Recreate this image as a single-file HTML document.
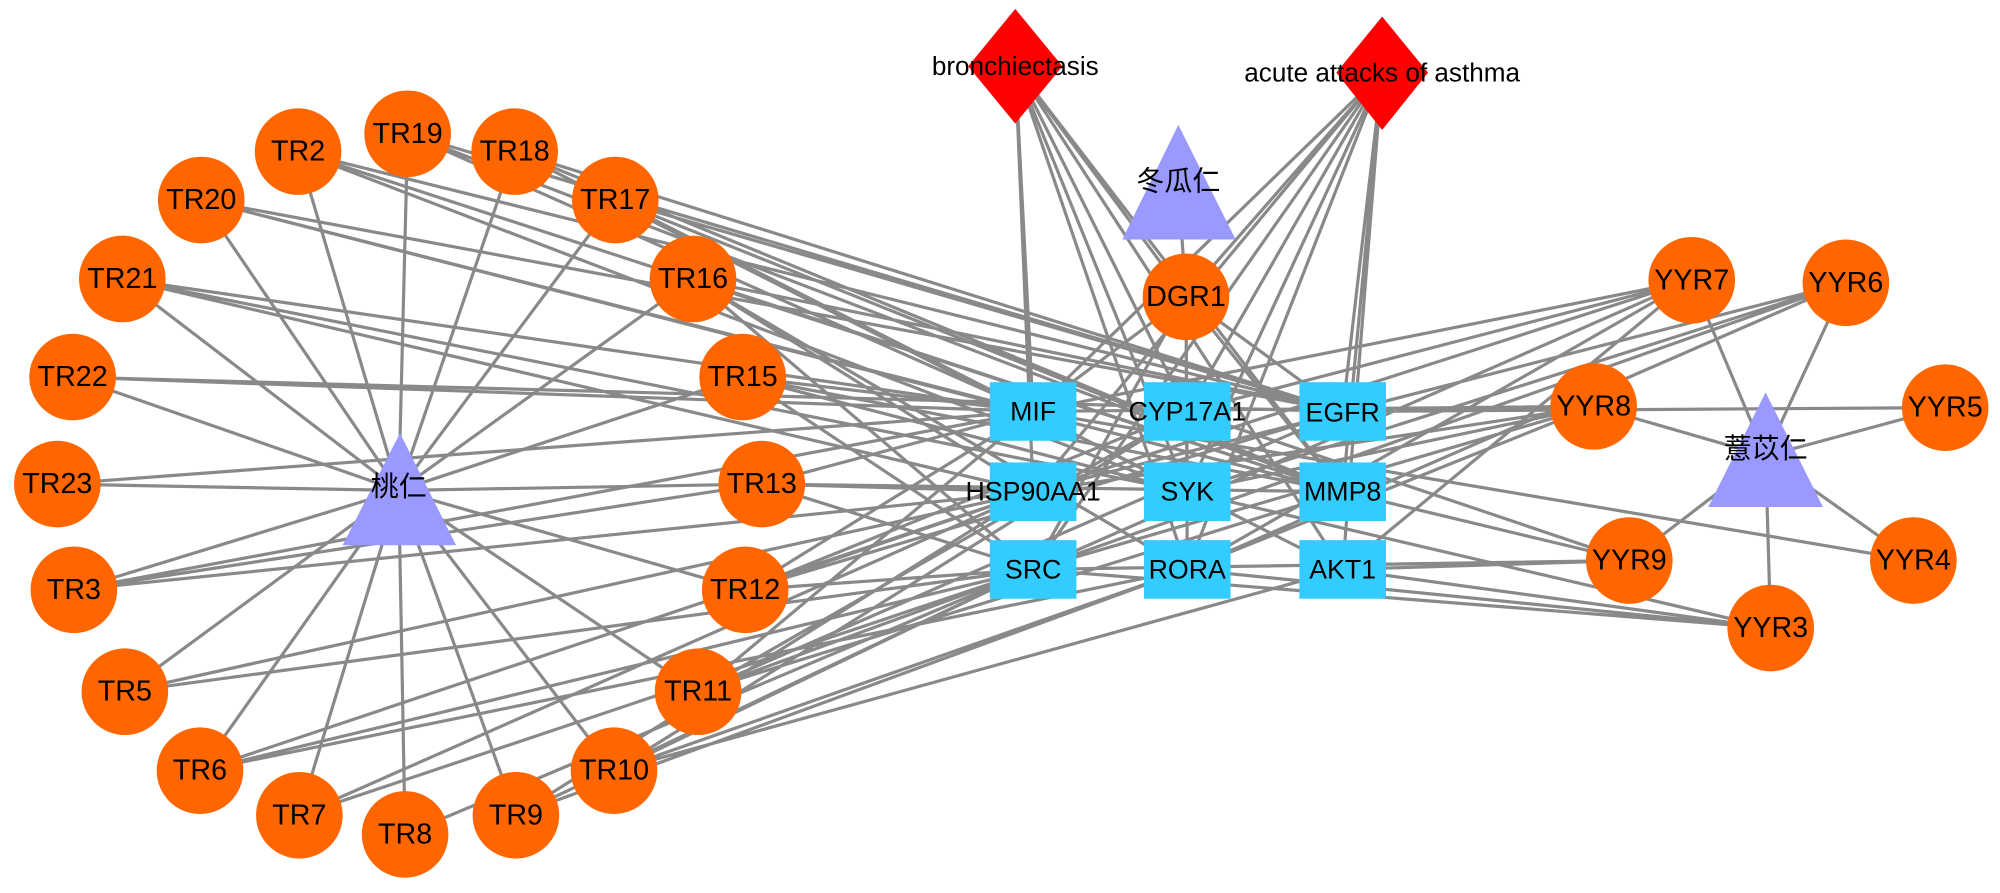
<!DOCTYPE html>
<html><head><meta charset="utf-8"><style>
html,body{margin:0;padding:0;background:#fff;width:2000px;height:893px;overflow:hidden}
svg{display:block}
text{font-family:"Liberation Sans","Noto Sans CJK SC",sans-serif;fill:#000;text-anchor:middle;dominant-baseline:central}
</style></head><body>
<svg width="2000" height="893" viewBox="0 0 1570 701" preserveAspectRatio="none" xmlns="http://www.w3.org/2000/svg">
<g stroke="#898989" stroke-width="2.5" fill="none">
<path d="M313,385L234,119M313,385L320,105M313,385L404,119M313,385L483,157M313,385L544,219M313,385L158,157M313,385L96,219M313,385L57,296M313,385L45,380M313,385L583,296M313,385L598,380M313,385L58,463M313,385L98,543M313,385L585,463M313,385L157,605M313,385L548,543M313,385L235,640M313,385L482,605M313,385L318,655M313,385L405,640"/>
<path d="M234,119L1054,323M234,119L1054,386M234,119L932,386M320,105L1054,323M320,105L1054,386M320,105L811,323M404,119L1054,323M404,119L1054,386M404,119L1054,447M483,157L1054,323M483,157L811,323M483,157L1054,386M483,157L932,386M544,219L1054,323M544,219L1054,386M544,219L932,447M544,219L811,447M544,219L811,386M158,157L1054,323M158,157L1054,386M158,157L811,323M96,219L811,323M96,219L811,386M96,219L932,386M57,296L811,323M57,296L1054,323M45,380L811,323"/>
<path d="M583,296L811,323M583,296L811,447M583,296L932,386M583,296L1054,386M598,380L811,323M598,380L811,447M598,380L811,386M598,380L1054,386M58,463L811,386M58,463L811,323M58,463L598,380M98,543L811,447M98,543L811,386M585,463L811,323M585,463L1054,323M585,463L811,447M585,463L811,386M585,463L932,323M157,605L811,447M157,605L811,386M157,605L932,447M548,543L811,323M548,543L1054,323M548,543L811,447M548,543L932,323M548,543L1054,386M235,640L811,447M235,640L811,386M482,605L811,447M482,605L932,447M482,605L1054,447M482,605L932,323M318,655L811,447M405,640L811,447M405,640L811,386M405,640L932,447"/>
<path d="M797,52L811,323M797,52L811,386M797,52L932,386M797,52L932,447M797,52L1054,386M797,52L932,323M797,52L931,233M797,52L1054,447M1085,57L1054,323M1085,57L1054,386M1085,57L1054,447M1085,57L932,323M1085,57L811,323M1085,57L932,386M1085,57L811,386M1085,57L811,447M1085,57L931,233M1085,57L932,447"/>
<path d="M925,145L931,233M931,233L811,323M931,233L1054,323M931,233L932,386M931,233L932,447M931,233L811,447M931,233L1054,386"/>
<path d="M1328,220L811,323M1328,220L932,323M1328,220L811,386M1328,220L811,447M1328,220L932,447M1328,220L1054,447M1449,222L811,447M1449,222L932,386M1449,222L932,447M1449,222L811,386M1251,319L1054,323M1251,319L811,323M1251,319L932,386M1251,319L811,447M1251,319L932,447M1251,319L811,386M1279,440L932,323M1279,440L1054,386M1279,440L1054,447M1279,440L811,447M1390,493L811,447M1390,493L1054,447M1390,493L932,447M1390,493L932,386M1502,440L811,323M1054,323L1527,320"/>
<path d="M1386,358L1328,220M1386,358L1449,222M1386,358L1251,319M1386,358L1527,320M1386,358L1279,440M1386,358L1502,440M1386,358L1390,493"/>
</g>
<polygon points="797,7 834,52 797,97 760,52" fill="#ff0000"/>
<polygon points="1085,13 1121,57 1085,102 1049,57" fill="#ff0000"/>
<text x="797" y="52" font-size="20.5">bronchiectasis</text>
<text x="1085" y="57" font-size="20.5">acute attacks of asthma</text>
<polygon points="925,98 970,188 881,188" fill="#9999ff"/>
<polygon points="314,340 358,428 269,428" fill="#9999ff"/>
<polygon points="1386,308 1431,398 1341,398" fill="#9999ff"/>
<text x="925" y="142" font-size="22">冬瓜仁</text>
<text x="313" y="382" font-size="22">桃仁</text>
<text x="1386" y="352" font-size="22">薏苡仁</text>
<g fill="#33ccff">
<rect x="777" y="300" width="68" height="46"/><rect x="898" y="300" width="68" height="46"/><rect x="1020" y="300" width="68" height="46"/>
<rect x="777" y="363" width="68" height="46"/><rect x="898" y="363" width="68" height="46"/><rect x="1020" y="363" width="68" height="46"/>
<rect x="777" y="424" width="68" height="46"/><rect x="898" y="424" width="68" height="46"/><rect x="1020" y="424" width="68" height="46"/>
</g>
<g font-size="21">
<text x="811" y="323">MIF</text><text x="932" y="323">CYP17A1</text><text x="1054" y="324">EGFR</text>
<text x="811" y="386">HSP90AA1</text><text x="932" y="386">SYK</text><text x="1054" y="386">MMP8</text>
<text x="811" y="447">SRC</text><text x="932" y="447">RORA</text><text x="1054" y="447">AKT1</text>
</g>
<g fill="#ff6600">
<circle cx="234" cy="119" r="34"/><circle cx="320" cy="105" r="34"/><circle cx="404" cy="119" r="34"/><circle cx="483" cy="157" r="34"/><circle cx="544" cy="219" r="34"/><circle cx="158" cy="157" r="34"/><circle cx="96" cy="219" r="34"/><circle cx="57" cy="296" r="34"/><circle cx="45" cy="380" r="34"/><circle cx="583" cy="296" r="34"/><circle cx="598" cy="380" r="34"/><circle cx="58" cy="463" r="34"/><circle cx="98" cy="543" r="34"/><circle cx="585" cy="463" r="34"/><circle cx="157" cy="605" r="34"/><circle cx="548" cy="543" r="34"/><circle cx="235" cy="640" r="34"/><circle cx="482" cy="605" r="34"/><circle cx="318" cy="655" r="34"/><circle cx="405" cy="640" r="34"/>
<circle cx="931" cy="233" r="34"/>
<circle cx="1328" cy="220" r="34"/><circle cx="1449" cy="222" r="34"/><circle cx="1251" cy="319" r="34"/><circle cx="1527" cy="320" r="34"/><circle cx="1279" cy="440" r="34"/><circle cx="1502" cy="440" r="34"/><circle cx="1390" cy="493" r="34"/>
</g>
<g font-size="22.5">
<text x="234" y="119">TR2</text><text x="320" y="105">TR19</text><text x="404" y="119">TR18</text><text x="483" y="157">TR17</text><text x="544" y="219">TR16</text><text x="158" y="157">TR20</text><text x="96" y="219">TR21</text><text x="57" y="296">TR22</text><text x="45" y="380">TR23</text><text x="583" y="296">TR15</text><text x="598" y="380">TR13</text><text x="58" y="463">TR3</text><text x="98" y="543">TR5</text><text x="585" y="463">TR12</text><text x="157" y="605">TR6</text><text x="548" y="543">TR11</text><text x="235" y="640">TR7</text><text x="482" y="605">TR10</text><text x="318" y="655">TR8</text><text x="405" y="640">TR9</text>
<text x="931" y="233">DGR1</text>
<text x="1328" y="220">YYR7</text><text x="1449" y="222">YYR6</text><text x="1251" y="319">YYR8</text><text x="1527" y="320">YYR5</text><text x="1279" y="440">YYR9</text><text x="1502" y="440">YYR4</text><text x="1390" y="493">YYR3</text>
</g>
</svg>
</body></html>
